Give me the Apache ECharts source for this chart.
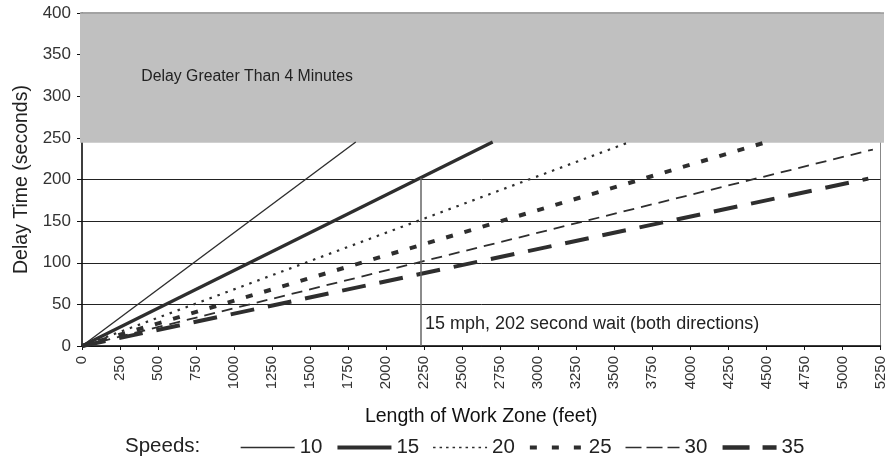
<!DOCTYPE html>
<html>
<head>
<meta charset="utf-8">
<script src="https://cdn.jsdelivr.net/npm/echarts@6/dist/echarts.min.js"></script>
<style>html,body{margin:0;padding:0;background:#fff}#c{width:888px;height:462px}</style>
</head>
<body>
<div id="c"></div>
<script>
// ---- data ----
var speeds = ['10', '15', '20', '25', '30', '35'];
// each line starts at origin and ends where it meets the grey band / chart end: [feet, seconds]
var lineEnds = [[1800, 245], [2700, 245], [3600, 245], [4500, 245], [5200, 236], [5170, 201]];
var xTicks = { min: 0, max: 5250, step: 250 };
var yTicks = { min: 0, max: 400, step: 50 };
var bandRange = [244, 400];
var markerLine = [[2230, 0], [2230, 202]];
var bandText = 'Delay Greater Than 4 Minutes';
var bandTextAt = [390, 323];
var noteText = '15 mph, 202 second wait (both directions)';
var noteAt = [2255, 26];

var styles = [
  { width: 1.4, type: 'solid' },
  { width: 3.3, type: 'solid' },
  { width: 2.2, type: [2.5, 6] },
  { width: 4, type: [7, 12] },
  { width: 1.8, type: [11, 7] },
  { width: 4, type: [24, 14] }
];
var legendStyles = [
  { width: 1.3, type: 'solid' },
  { width: 4, type: 'solid' },
  { width: 1.6, type: [2.5, 4] },
  { width: 4, type: [7, 15] },
  { width: 1.7, type: [16, 5] },
  { width: 4.5, type: [27, 13] }
];
var FONT = 'Liberation Sans, Arial, sans-serif';
var INK = '#2e2e2e';

var series = speeds.map(function (s, i) {
  return {
    name: s,
    type: 'line',
    symbol: 'none',
    data: [[0, 0], lineEnds[i]],
    lineStyle: { color: INK, width: styles[i].width, type: styles[i].type, cap: 'butt' },
    itemStyle: { color: INK },
    z: 3,
    silent: true
  };
});
series.push({
  name: 'band',
  type: 'line',
  data: [],
  z: 5,
  silent: true,
  markArea: {
    silent: true,
    itemStyle: { color: '#c0c0c0' },
    label: { show: false },
    data: [[{ yAxis: bandRange[0], x: 80 }, { yAxis: bandRange[1], x: 884 }]]
  },
  markLine: {
    silent: true,
    symbol: 'none',
    label: { show: false },
    lineStyle: { color: '#666', width: 1.5, type: 'solid' },
    data: [
      [{ coord: markerLine[0] }, { coord: markerLine[1] }],
      [{ yAxis: bandRange[1], x: 80, lineStyle: { color: '#999', width: 1.5 } }, { yAxis: bandRange[1], x: 884 }]
    ]
  },
  markPoint: {
    silent: true,
    symbol: 'circle',
    symbolSize: 0,
    data: [
      { coord: bandTextAt, label: { show: true, position: 'right', distance: 0, formatter: bandText, color: '#222', fontSize: 15.8, fontFamily: FONT } },
      { coord: noteAt, label: { show: true, position: 'right', distance: 0, formatter: noteText, color: '#222', fontSize: 18, fontFamily: FONT } }
    ]
  }
});

var legendData = speeds.map(function (s, i) {
  return { name: s, lineStyle: { color: INK, width: legendStyles[i].width, type: legendStyles[i].type, cap: 'butt' }, itemStyle: { opacity: 0 } };
});

var chart = echarts.init(document.getElementById('c'), null, { renderer: 'canvas' });
chart.setOption({
  animation: false,
  backgroundColor: '#fff',
  grid: { left: 82, right: 5, top: 13, bottom: 116, show: true, borderColor: '#888', borderWidth: 1, backgroundColor: 'transparent' },
  xAxis: {
    type: 'value',
    min: xTicks.min, max: xTicks.max, interval: xTicks.step,
    name: 'Length of Work Zone (feet)',
    nameLocation: 'middle', nameGap: 61,
    nameTextStyle: { color: '#111', fontSize: 19.5, fontFamily: FONT },
    axisLine: { lineStyle: { color: '#111', width: 1.5 } },
    axisTick: { show: true, length: 4, lineStyle: { color: '#111' } },
    axisLabel: { rotate: 90, margin: 10, color: '#333', fontSize: 15, fontFamily: FONT, formatter: function (v) { return String(v); } },
    splitLine: { show: false }
  },
  yAxis: {
    type: 'value',
    min: yTicks.min, max: yTicks.max, interval: yTicks.step,
    name: 'Delay Time (seconds)',
    nameLocation: 'middle', nameGap: 47,
    nameTextStyle: { color: '#222', fontSize: 19.5, fontFamily: FONT },
    axisLine: { show: true, lineStyle: { color: '#111', width: 1.5 } },
    axisTick: { show: true, length: 5, lineStyle: { color: '#111' } },
    axisLabel: { margin: 11, color: '#333', fontSize: 17, fontFamily: FONT },
    splitLine: { show: true, lineStyle: { color: '#222', width: 1 } }
  },
  legend: {
    data: legendData,
    left: 235, top: 432,
    itemWidth: 54, itemHeight: 14, itemGap: 13,
    itemStyle: { opacity: 0 },
    textStyle: { color: '#222', fontSize: 20.5, fontFamily: FONT },
    selectedMode: false
  },
  graphic: [{
    type: 'text', left: 125, top: 436,
    style: { text: 'Speeds:', fill: '#222', fontSize: 20.5, fontFamily: FONT }
  }],
  series: series
});
</script>
</body>
</html>
